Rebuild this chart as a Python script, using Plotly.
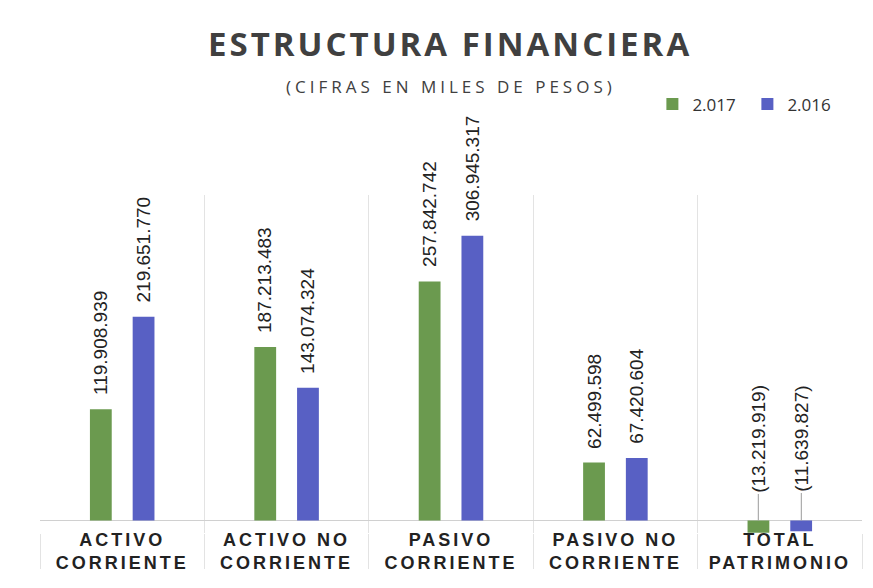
import plotly.graph_objects as go

categories = ["ACTIVO<br>CORRIENTE", "ACTIVO NO<br>CORRIENTE", "PASIVO<br>CORRIENTE",
              "PASIVO NO<br>CORRIENTE", "TOTAL<br>PATRIMONIO"]
values_2017 = [119908939, 187213483, 257842742, 62499598, -13219919]
values_2016 = [219651770, 143074324, 306945317, 67420604, -11639827]
series_names = ["2.017", "2.016"]
colors = ["#6b9a4f", "#5860c4"]


def fmt(v):
    s = f"{abs(v):,}".replace(",", ".")
    return f"({s})" if v < 0 else s


def spaced(label, px):
    return "<br>".join(f"<b><span style='letter-spacing:{px}px'>{part}</span></b>"
                       for part in label.split("<br>"))


fig = go.Figure()
for name, vals, col in zip(series_names, [values_2017, values_2016], colors):
    fig.add_trace(go.Bar(x=categories, y=vals, name=name, marker_color=col,
                         marker_line_width=0))

label_font = dict(family="Arial", size=19, color="#222222")
annotations = []
offsets = [-21.5, 21.5]
for vals, off in zip([values_2017, values_2016], offsets):
    for c, v in zip(categories, vals):
        if v >= 0:
            annotations.append(dict(x=c, y=v, xref="x", yref="y", text=fmt(v),
                                    textangle=-90, showarrow=False, yanchor="bottom",
                                    xshift=off, yshift=12, font=label_font))
        else:
            annotations.append(dict(x=c, y=0, xref="x", yref="y", text=fmt(v),
                                    textangle=-90, showarrow=True, arrowhead=0,
                                    arrowwidth=1, arrowcolor="#9a9a9a",
                                    ax=0, ay=-82, xshift=off, font=label_font))

annotations.append(dict(xref="paper", yref="paper", x=0.5, y=1, yanchor="bottom",
                        xshift=-1, yshift=127, showarrow=False,
                        text="<b><span style='letter-spacing:3px'>ESTRUCTURA FINANCIERA</span></b>",
                        font=dict(family="Open Sans", size=33, color="#404040")))
annotations.append(dict(xref="paper", yref="paper", x=0.5, y=1, yanchor="bottom",
                        xshift=0, yshift=95, showarrow=False,
                        text="<span style='letter-spacing:4px'>(CIFRAS EN MILES DE PESOS)</span>",
                        font=dict(family="Open Sans", size=17, color="#404040")))

fig.update_layout(
    width=873, height=588,
    paper_bgcolor="white", plot_bgcolor="white",
    margin=dict(l=40, r=11, t=195, b=55),
    barmode="group", bargap=0.48, bargroupgap=0.49,
    showlegend=True,
    legend=dict(orientation="h", x=0.745, y=1.215, xanchor="left", yanchor="bottom",
                font=dict(family="Open Sans", size=17, color="#333333"),
                itemwidth=30, entrywidth=50, entrywidthmode="pixels",
                traceorder="normal", bgcolor="rgba(0,0,0,0)"),
    annotations=annotations,
)

fig.update_xaxes(
    tickson="boundaries", showgrid=True, gridcolor="#e3e3e3", gridwidth=1,
    ticks="outside", ticklen=35, tickcolor="#e3e3e3", ticklabelstandoff=-6,
    showline=False, automargin=False,
    tickvals=categories, ticktext=[spaced(c, 3) for c in categories],
    tickfont=dict(family="Arial", size=18, color="#222222"),
)
fig.update_yaxes(
    range=[-13.5e6, 351e6], showgrid=False, showticklabels=False,
    zeroline=True, zerolinecolor="#d0d0d0", zerolinewidth=1, automargin=False,
)

fig.write_html(
    "out.html", config={"displayModeBar": False},
    post_script=("document.body.style.margin='0px';"
                 "document.body.style.overflow='hidden';"
                 "document.documentElement.style.overflow='hidden';"),
)
